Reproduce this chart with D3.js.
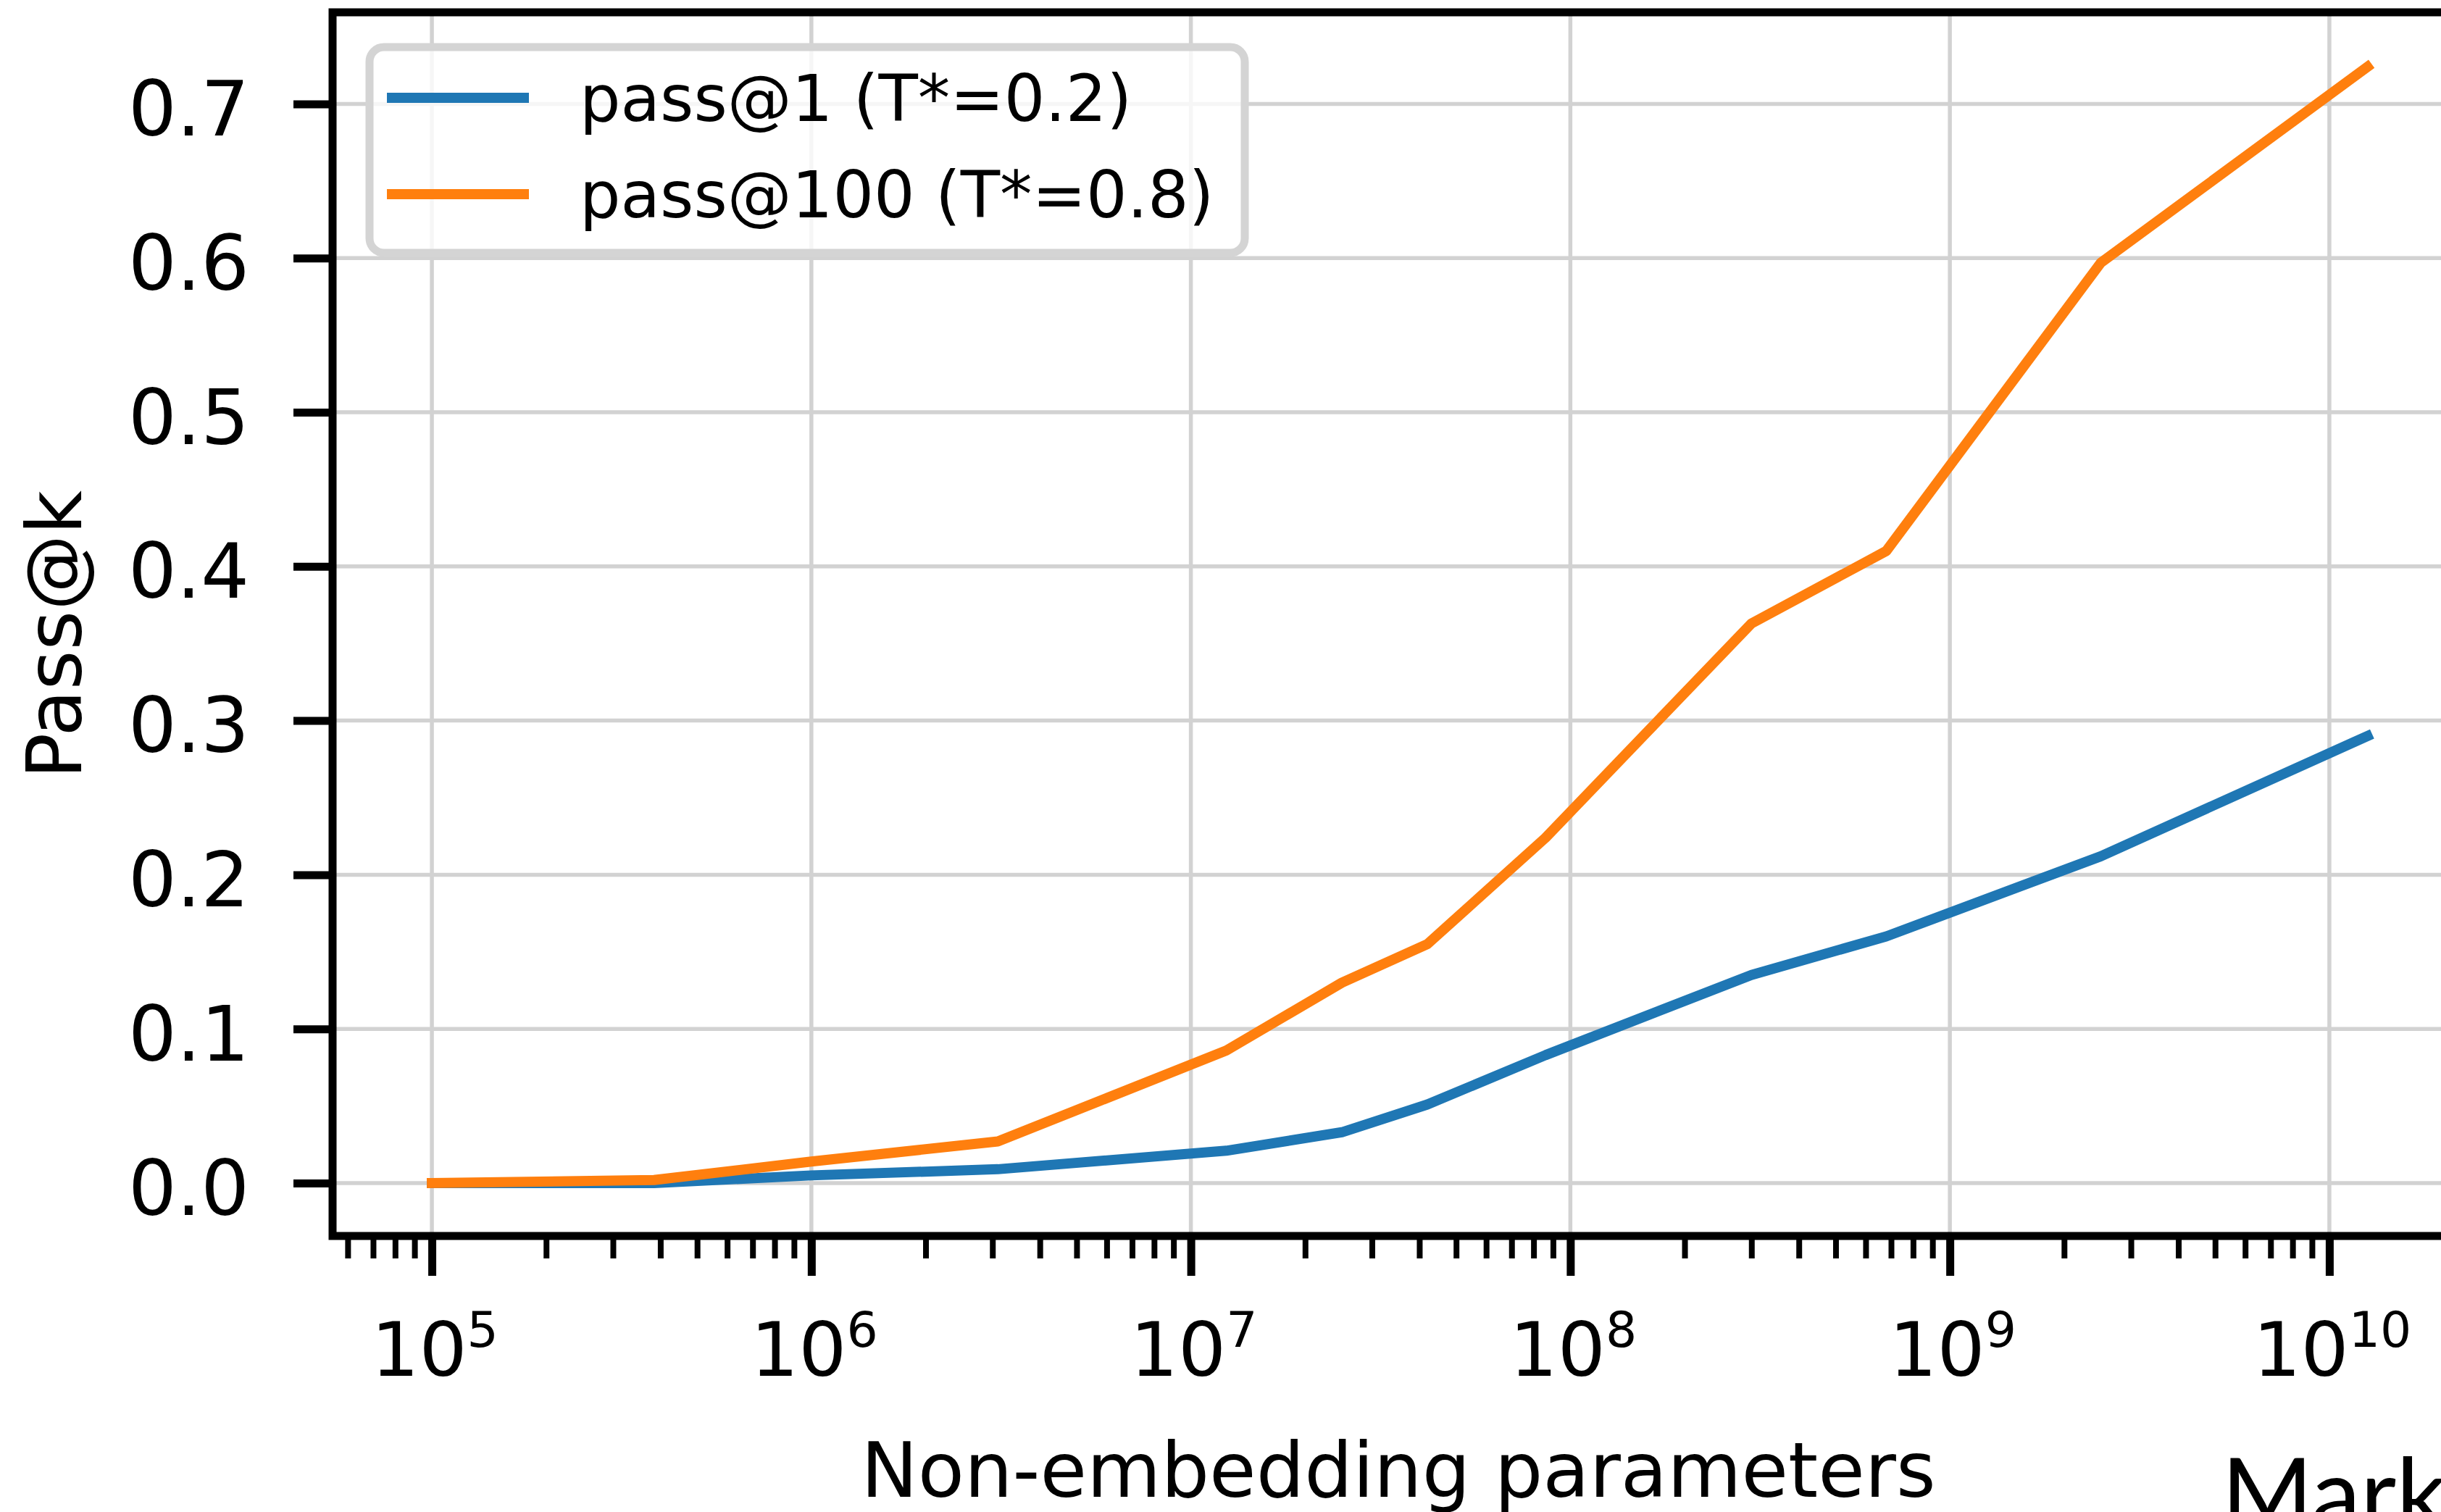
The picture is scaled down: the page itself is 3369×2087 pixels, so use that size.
<!DOCTYPE html>
<html>
<head>
<meta charset="utf-8">
<script src="https://cdn.jsdelivr.net/npm/d3@7"></script>
<style>
  html, body { margin: 0; padding: 0; background: #fff; }
  svg { display: block; }
  text { font-family: "DejaVu Sans", sans-serif; fill: #000; }
</style>
</head>
<body>
<svg id="chart"></svg>
<script>
// model size (non-embedding parameters)
let params = [1e5, 3.85e5, 1.0e6, 3.1e6, 1.24e7, 2.5e7, 4.2e7, 8.6e7, 3.0e8, 6.8e8, 2.5e9, 1.26e10]
let pass1 = [0.000, 0.000, 0.005, 0.009, 0.021, 0.033, 0.051, 0.083, 0.135, 0.160, 0.212, 0.290]
let pass100 = [0.000, 0.002, 0.014, 0.027, 0.086, 0.130, 0.155, 0.224, 0.363, 0.410, 0.597, 0.724]

let seriesNames = ['pass@1 (T*=0.2)', 'pass@100 (T*=0.8)']
let seriesColors = ['#1f77b4', '#ff7f0e']

let yTicks = [0, 0.1, 0.2, 0.3, 0.4, 0.5, 0.6, 0.7]
let xExponents = [5, 6, 7, 8, 9, 10]

let width = 3369
let height = 2087

let axLeft = 459, axRight = 3401, axTop = 17, axBottom = 1706

let svg = d3.select('#chart')
	.attr('width', width)
	.attr('height', height)

let x = d3.scaleLog()
	.domain([Math.pow(10, 4.7383), Math.pow(10, 10.3553)])
	.range([axLeft, axRight])

let y = d3.scaleLinear()
	.domain([-0.0343, 0.7594])
	.range([axBottom, axTop])

let majors = xExponents.map(e => Math.pow(10, e))
let minors = []
d3.range(4, 11).forEach(e => {
	d3.range(2, 10).forEach(m => {
		let v = m * Math.pow(10, e)
		if (v > x.domain()[0] && v < x.domain()[1]) minors.push(v)
	})
})

// grid
let grid = svg.append('g').attr('class', 'grid')
grid.selectAll('.gx')
	.data(majors)
	.enter()
	.append('line')
	.attr('x1', d => x(d)).attr('x2', d => x(d))
	.attr('y1', axTop).attr('y2', axBottom)
	.attr('stroke', '#d2d2d2')
	.attr('stroke-width', 5.5)
grid.selectAll('.gy')
	.data(yTicks)
	.enter()
	.append('line')
	.attr('x1', axLeft).attr('x2', axRight)
	.attr('y1', d => y(d)).attr('y2', d => y(d))
	.attr('stroke', '#d2d2d2')
	.attr('stroke-width', 5.5)

// series
let series = [pass1, pass100].map((vals, i) => {
	return {
		name : seriesNames[i],
		color : seriesColors[i],
		points : params.map((p, j) => ({ p : p, v : vals[j] }))
	}
})

let lineGen = d3.line()
	.x(d => x(d.p))
	.y(d => y(d.v))

svg.append('g')
	.selectAll('path')
	.data(series)
	.enter()
	.append('path')
	.attr('d', d => lineGen(d.points))
	.attr('fill', 'none')
	.attr('stroke', d => d.color)
	.attr('stroke-width', 14)
	.attr('stroke-linejoin', 'round')
	.attr('stroke-linecap', 'square')

// axes
let xMajor = svg.append('g')
	.attr('transform', `translate(0,${axBottom})`)
	.call(d3.axisBottom(x).tickValues(majors).tickSize(55).tickFormat(''))
xMajor.select('.domain').remove()
xMajor.selectAll('.tick line').attr('stroke', '#000').attr('stroke-width', 11)

let xMinor = svg.append('g')
	.attr('transform', `translate(0,${axBottom})`)
	.call(d3.axisBottom(x).tickValues(minors).tickSize(31).tickFormat(''))
xMinor.select('.domain').remove()
xMinor.selectAll('.tick line').attr('stroke', '#000').attr('stroke-width', 8)

// x tick labels, 10 with superscript exponent
let xLabels = svg.append('g')
xLabels.selectAll('text')
	.data(xExponents)
	.enter()
	.append('text')
	.attr('x', d => x(Math.pow(10, d)) + 4)
	.attr('y', 1899)
	.attr('text-anchor', 'middle')
	.attr('font-size', 104)
	.each(function(d) {
		let t = d3.select(this)
		t.append('tspan').text('10')
		t.append('tspan').attr('font-size', 68).attr('dy', -40).text(d)
	})

let yAxis = svg.append('g')
	.attr('transform', `translate(${axLeft},0)`)
	.call(d3.axisLeft(y).tickValues(yTicks).tickSize(54).tickPadding(61).tickFormat(d3.format('.1f')))
yAxis.select('.domain').remove()
yAxis.selectAll('.tick line').attr('stroke', '#000').attr('stroke-width', 11)
yAxis.selectAll('.tick text')
	.attr('font-size', 105)
	.attr('font-family', '"DejaVu Sans", sans-serif')
	.attr('fill', '#000')
	.attr('dy', '0.41em')

// spines
svg.append('rect')
	.attr('x', axLeft).attr('y', axTop)
	.attr('width', axRight - axLeft).attr('height', axBottom - axTop)
	.attr('fill', 'none')
	.attr('stroke', '#000')
	.attr('stroke-width', 11)
	.attr('stroke-linecap', 'square')

// axis titles
svg.append('text')
	.text('Non-embedding parameters')
	.attr('x', (axLeft + axRight) / 2)
	.attr('y', 2066)
	.attr('text-anchor', 'middle')
	.attr('font-size', 105)

svg.append('text')
	.text('Pass@k')
	.attr('transform', 'translate(112,876) rotate(-90)')
	.attr('text-anchor', 'middle')
	.attr('font-size', 105)

// legend
let legend = svg.append('g').attr('class', 'legend')
legend.append('rect')
	.attr('x', 510).attr('y', 65)
	.attr('width', 1208).attr('height', 284)
	.attr('rx', 20).attr('ry', 20)
	.attr('fill', '#fff')
	.attr('fill-opacity', 0.8)
	.attr('stroke', '#d4d4d4')
	.attr('stroke-width', 11)

let items = legend.selectAll('.item')
	.data(series)
	.enter()
	.append('g')
	.attr('transform', (d, i) => `translate(0,${135 + i * 133})`)
items.append('line')
	.attr('x1', 534).attr('x2', 730)
	.attr('y1', 0).attr('y2', 0)
	.attr('stroke', d => d.color)
	.attr('stroke-width', 14)
items.append('text')
	.text(d => d.name)
	.attr('x', 800)
	.attr('y', 32)
	.attr('font-size', 89)

// stray caption cut off at the bottom right
svg.append('text')
	.text('Mark')
	.attr('x', 3066)
	.attr('y', 2110)
	.attr('font-size', 136)
	.style('font-family', 'Lato, "Open Sans", sans-serif')
</script>
</body>
</html>
